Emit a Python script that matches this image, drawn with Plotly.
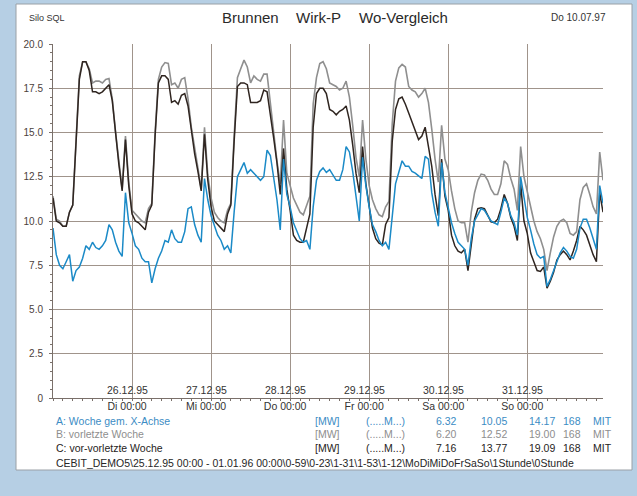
import plotly.graph_objects as go

# =========================================================
# DATA (hourly values, 25.12.95 00:00 - 31.12.95 23:00)
# =========================================================

stunden = list(range(168))

# A: Woche gem. X-Achse (blue)
woche_a = [
    9.6, 8.1, 7.5, 7.3, 7.7, 8.1, 6.6, 7.2, 7.4, 7.9, 8.6, 8.4, 8.8, 8.5, 8.4, 8.6, 8.9, 9.8, 9.5, 8.8, 8.3, 8.0, 11.6, 9.9,
    9.3, 8.6, 8.4, 7.9, 7.7, 7.7, 6.5, 7.3, 7.9, 8.3, 8.9, 8.8, 9.5, 9.0, 8.8, 8.8, 9.4, 10.7, 10.8, 9.8, 9.2, 8.8, 12.4, 11.2,
    10.3, 9.7, 9.2, 8.9, 8.4, 8.6, 8.2, 10.5, 12.5, 12.9, 13.3, 12.7, 12.9, 12.7, 12.5, 12.3, 12.5, 14.0, 13.7, 12.4, 11.2, 9.5, 13.5, 11.5,
    10.8, 9.9, 9.4, 9.0, 8.8, 8.9, 8.4, 10.8, 12.3, 12.8, 13.0, 12.75, 12.9, 12.6, 12.3, 12.3, 12.9, 14.2, 13.9, 12.8, 11.4, 10.0, 13.6, 12.0,
    10.8, 9.8, 9.4, 8.9, 8.6, 8.8, 8.4, 10.4, 12.1, 12.75, 13.4, 13.1, 13.1, 12.8, 12.7, 12.55, 12.4, 13.65, 13.5, 11.6, 10.5, 9.7, 13.3, 11.6,
    10.8, 9.9, 9.3, 8.8, 8.6, 8.4, 7.5, 9.0, 10.0, 10.4, 10.7, 10.6, 10.3, 10.0, 9.9, 9.8, 10.5, 11.3, 11.0, 10.3, 9.9, 9.2, 12.5, 11.2,
    10.2, 9.5, 8.7, 8.1, 7.9, 8.0, 6.3, 6.7, 7.2, 7.8, 8.2, 8.5, 8.3, 8.0, 7.9, 8.4, 9.6, 10.1, 10.1, 9.6, 9.0, 8.4, 12.0, 11.0,
]

# upper grey curve
linie_grau = [
    11.4, 10.1, 10.0, 9.7, 9.7, 10.5, 10.9, 15.0, 18.2, 19.0, 19.0, 18.6, 17.8, 17.9, 17.9, 17.8, 18.0, 18.05, 16.9, 15.0, 13.3, 11.8, 14.8, 12.2,
    10.6, 10.4, 10.2, 10.0, 9.9, 10.7, 11.0, 15.0, 18.0, 18.7, 18.95, 18.9, 17.7, 17.8, 17.5, 18.0, 18.1, 16.9, 15.3, 14.0, 13.0, 11.8, 15.3, 12.6,
    11.3, 10.5, 10.2, 10.0, 9.9, 10.6, 11.0, 14.8, 18.1, 18.6, 19.09, 18.7, 17.8, 18.2, 18.0, 17.9, 18.3, 18.3, 16.6, 14.9, 13.4, 12.1, 15.7, 12.7,
    12.0, 11.3, 10.9, 10.5, 10.35, 10.9, 11.4, 16.6, 18.1, 18.9, 19.0, 18.6, 17.8, 17.7, 17.6, 17.4, 17.5, 17.9, 17.0, 15.4, 13.6, 12.5, 15.7, 13.5,
    12.0, 11.2, 10.7, 10.35, 10.25, 10.8, 11.1, 15.5, 17.9, 18.65, 18.85, 18.7, 17.6, 17.4, 17.3, 17.0, 17.2, 17.5, 16.7, 15.2, 13.5, 12.2, 15.4, 13.5,
    12.9, 11.7, 10.7, 10.0, 9.9, 9.9, 8.8, 10.5, 11.6, 12.3, 12.65, 12.6, 12.3, 11.8, 11.5, 11.5, 12.1, 13.4, 13.2, 12.4, 11.8, 10.6, 14.2, 12.5,
    11.7, 10.8, 10.0, 9.4, 9.0, 8.4, 7.2, 8.2, 9.1, 9.7, 10.0, 10.1, 9.9, 9.3, 9.2, 9.4, 11.2, 11.9, 12.1, 11.5, 10.8, 10.4, 13.9, 12.3,
]

# lower dark curve
linie_dunkel = [
    11.3, 10.0, 9.9, 9.7, 9.7, 10.5, 10.9, 14.8, 18.0, 19.0, 19.0, 18.5, 17.3, 17.3, 17.2, 17.3, 17.5, 17.7, 16.8, 14.9, 13.2, 11.7, 14.6, 12.0,
    10.4, 10.0, 9.9, 9.7, 9.5, 10.5, 10.9, 14.8, 17.8, 18.2, 18.2, 18.0, 16.7, 16.8, 16.6, 17.1, 17.2, 16.5, 15.0, 13.8, 12.8, 11.7, 14.9, 12.3,
    10.8, 10.0, 9.8, 9.6, 9.4, 10.4, 10.9, 14.5, 17.6, 17.8, 17.8, 17.7, 16.7, 16.7, 16.7, 16.8, 17.4, 17.3, 16.1, 14.7, 13.3, 11.5, 14.1, 11.8,
    10.6, 9.2, 8.9, 8.8, 8.8, 9.7, 10.4, 15.3, 17.2, 17.5, 17.5, 17.2, 16.3, 16.2, 16.0, 16.2, 16.3, 16.5, 15.7, 14.3, 12.7, 11.6, 14.2, 12.1,
    10.9, 9.6, 9.0, 8.75, 8.65, 9.8, 10.2, 14.5, 16.3, 16.9, 17.0, 16.6, 16.1, 15.6, 15.0, 14.6, 14.8, 15.3, 14.2, 13.1, 11.5, 10.3, 13.5, 11.4,
    10.6, 9.2, 8.6, 8.3, 8.2, 8.4, 7.2, 8.8, 10.1, 10.7, 10.75, 10.7, 10.3, 9.95, 9.9, 10.1, 10.7, 11.5, 11.0, 10.2, 9.7, 8.9, 12.1, 10.0,
    9.3, 8.2, 7.7, 7.2, 7.15, 7.4, 6.2, 6.6, 7.1, 7.8, 8.1, 8.3, 8.1, 7.8, 8.3, 8.9, 9.7, 9.5, 9.2, 8.6, 8.1, 7.7, 11.6, 10.5,
]

tag_stunden = [24, 48, 72, 96, 120, 144]
datum_labels = ["26.12.95", "27.12.95", "28.12.95", "29.12.95", "30.12.95", "31.12.95"]
tag_labels = ["Di 00:00", "Mi 00:00", "Do 00:00", "Fr 00:00", "Sa 00:00", "So 00:00"]

y_ticks = [0, 2.5, 5, 7.5, 10, 12.5, 15, 17.5, 20]
y_ticktext = ["0", "2.5", "5.0", "7.5", "10.0", "12.5", "15.0", "17.5", "20.0"]

legende_namen = ["A: Woche gem. X-Achse", "B: vorletzte Woche", "C: vor-vorletzte Woche"]
legende_min = ["6.32", "6.20", "7.16"]
legende_mit = ["10.05", "12.52", "13.77"]
legende_max = ["14.17", "19.00", "19.09"]
legende_anz = ["168", "168", "168"]
legende_farben = ["#3b8cc4", "#8e8e8e", "#262322"]

fusszeile = ("CEBIT_DEMO5\\25.12.95 00:00 - 01.01.96 00:00\\0-59\\0-23\\1-31\\1-53"
             "\\1-12\\MoDiMiDoFrSaSo\\1Stunde\\0Stunde")

# =========================================================
# LAYOUT HELPERS (pixel -> paper)
# =========================================================

W, H = 637, 496
L, R, T, B = 53, 34, 44, 98
PW, PH = W - L - R, H - T - B
FONT = "Liberation Sans, Arial, sans-serif"
GRID = "#a0948b"


def fx(px):
    return (px - L) / PW


def fy(py):
    return (T + PH - py) / PH


fig = go.Figure()

fig.add_trace(go.Scatter(x=stunden, y=linie_grau, mode="lines",
                         line=dict(color="#8f8f8f", width=1.6), hoverinfo="skip"))
fig.add_trace(go.Scatter(x=stunden, y=linie_dunkel, mode="lines",
                         line=dict(color="#2f2520", width=1.5), hoverinfo="skip"))
fig.add_trace(go.Scatter(x=stunden, y=woche_a, mode="lines",
                         line=dict(color="#1b8ac7", width=1.5), hoverinfo="skip"))

# paper sheet
fig.add_shape(type="rect", xref="paper", yref="paper",
              x0=fx(16), x1=fx(632), y0=fy(470), y1=fy(4),
              fillcolor="white", line=dict(color="#9aa0a6", width=1), layer="below")

ann = []


def text(s, x, y, size, color, xanchor="left", xref="paper", yref="paper", yanchor="middle", yshift=0):
    ann.append(dict(text=s, x=x, y=y, xref=xref, yref=yref, xanchor=xanchor, yanchor=yanchor,
                    yshift=yshift, showarrow=False, font=dict(family=FONT, size=size, color=color)))


# header
text("Silo SQL", fx(27), fy(18), 9, "#333333")
text("Brunnen", fx(250), fy(18), 15, "#2a2a2a", "center")
text("Wirk-P", fx(318.7), fy(18), 15, "#2a2a2a", "center")
text("Wo-Vergleich", fx(403.5), fy(18), 15, "#2a2a2a", "center")
text("Do 10.07.97", fx(608), fy(18), 10, "#333333", "right")

# dates above the time axis
for t, d in zip(tag_stunden, datum_labels):
    text(d, t - 1.4, 0, 10.5, "#333333", "center", xref="x", yref="y", yanchor="bottom", yshift=0)

# legend block
zeilen_y = [420.5, 434, 448]
for i in range(3):
    c = legende_farben[i]
    yy = fy(zeilen_y[i])
    text(legende_namen[i], fx(54), yy, 10.5, c)
    text("[MW]", fx(313), yy, 10.5, c)
    text("(.....M...)", fx(364), yy, 10.5, c)
    text(legende_min[i], fx(459), yy, 10.5, c, "right")
    text(legende_mit[i], fx(509), yy, 10.5, c, "right")
    text(legende_max[i], fx(557), yy, 10.5, c, "right")
    text(legende_anz[i], fx(583), yy, 10.5, c, "right")
    text("MIT", fx(591), yy, 10.5, c)

text(fusszeile, fx(54), fy(463), 10.5, "#262626")

fig.update_layout(
    width=W, height=H,
    margin=dict(l=L, r=R, t=T, b=B, pad=0),
    paper_bgcolor="#b6cfe4",
    plot_bgcolor="white",
    showlegend=False,
    annotations=ann,
    font=dict(family=FONT),
)

fig.update_xaxes(
    range=[0, 167], tickvals=tag_stunden, ticktext=tag_labels,
    showgrid=True, gridcolor=GRID, gridwidth=1,
    showline=True, linecolor="#7a706a", linewidth=1,
    ticks="", zeroline=False,
    minor=dict(dtick=3, tick0=0, ticks="outside", ticklen=2, tickcolor="#7a706a", showgrid=False),
    ticklabelshift=-5, ticklabelstandoff=-2,
    tickfont=dict(family=FONT, size=10.5, color="#333333"),
)

fig.update_yaxes(
    range=[0, 20], tickvals=y_ticks, ticktext=y_ticktext,
    showgrid=True, gridcolor=GRID, gridwidth=1,
    showline=True, linecolor="#7a706a", linewidth=1,
    ticks="outside", ticklen=3, tickcolor="#7a706a", zeroline=False,
    minor=dict(dtick=0.5, ticks="outside", ticklen=2, tickcolor="#7a706a", showgrid=False),
    ticklabelstandoff=4,
    tickfont=dict(family=FONT, size=10, color="#4b413c"),
)

fig.write_html("out.html", config={"displayModeBar": False},
               post_script="document.body.style.margin='0px';")
